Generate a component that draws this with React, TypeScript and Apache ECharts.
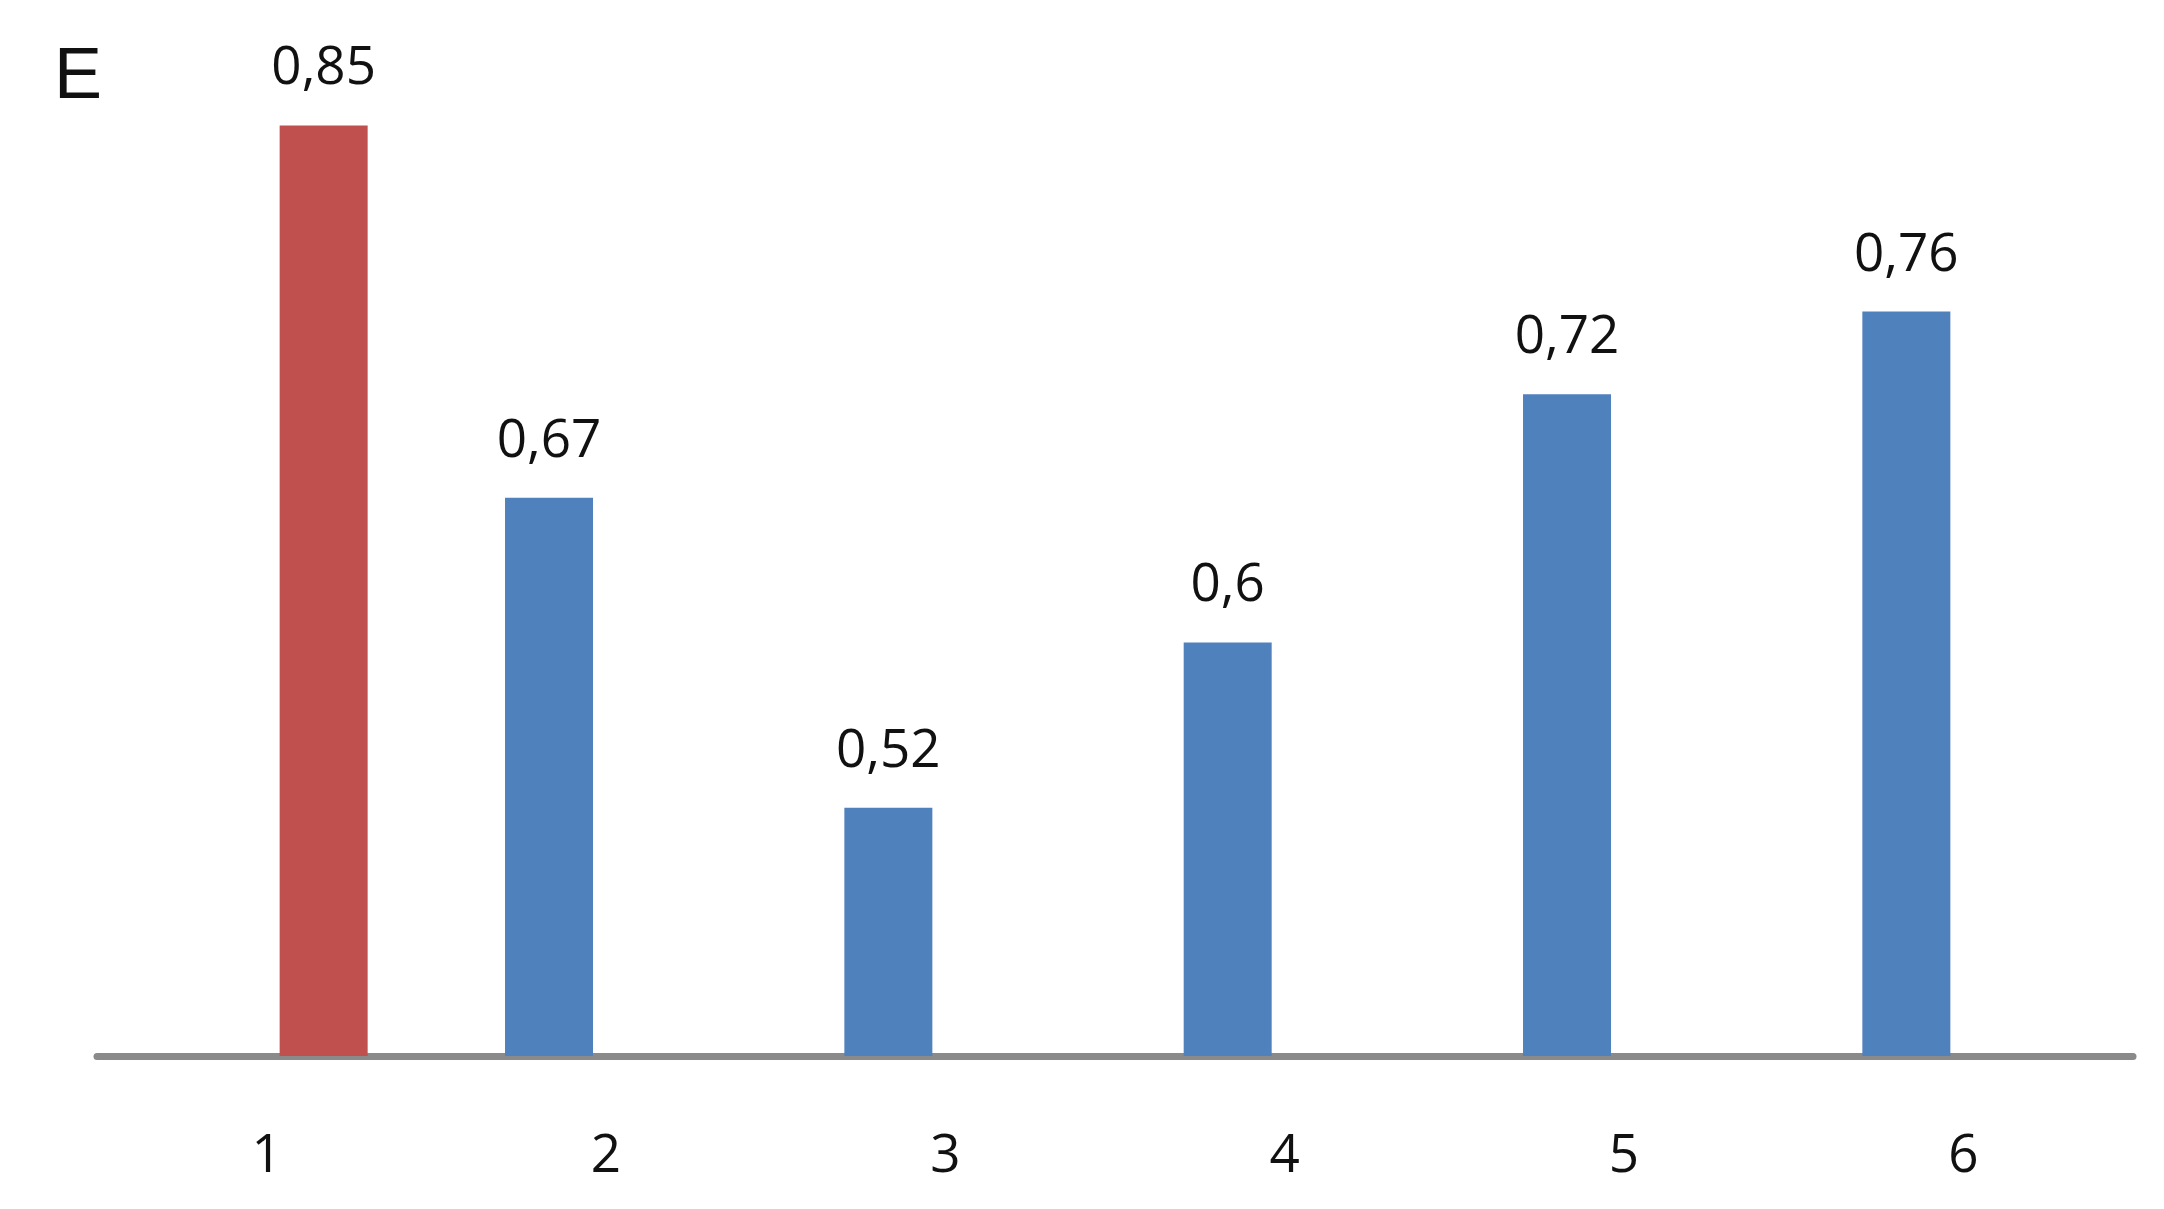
import React, { useEffect, useRef } from "react";
import * as echarts from "echarts";

const categories = ["1", "2", "3", "4", "5", "6"];
const blueValues: (number | null)[] = [null, 0.67, 0.52, 0.6, 0.72, 0.76];
const redValues: (number | null)[] = [0.85, null, null, null, null, null];
const panelLetter = "E";

export default function App() {
  const ref = useRef<HTMLDivElement>(null);
  useEffect(() => {
    if (!ref.current) return;
    const chart = echarts.init(ref.current, undefined, { renderer: "svg" });
    const labelCfg = {
      show: true,
      position: "top" as const,
      distance: 35,
      fontFamily: "Open Sans",
      fontSize: 53,
      color: "#111",
      formatter: (p: any) => String(p.value).replace(".", ","),
    };
    chart.setOption({
      animation: false,
      backgroundColor: "#ffffff",
      grid: { left: 97, right: 31, top: 22, bottom: 153, containLabel: false },
      xAxis: {
        type: "category",
        data: categories,
        axisTick: { show: false },
        axisLine: { show: true, lineStyle: { color: "#8a8a8a", width: 7 } },
        axisLabel: {
          fontFamily: "Open Sans",
          fontSize: 53,
          color: "#111",
          margin: 69,
        },
      },
      yAxis: {
        type: "value",
        min: 0.4,
        max: 0.9,
        show: false,
        splitLine: { show: false },
      },
      graphic: [
        {
          type: "text",
          left: 54,
          top: 37,
          style: {
            text: panelLetter,
            fontFamily: "Liberation Sans",
            fontSize: 72,
            fill: "#111",
          },
        },
      ],
      series: [
        {
          type: "bar",
          data: blueValues,
          barWidth: 88,
          barGap: "29.5%",
          itemStyle: { color: "#4F81BD" },
          label: labelCfg,
        },
        {
          type: "bar",
          data: redValues,
          barWidth: 88,
          barGap: "29.5%",
          itemStyle: { color: "#C0504D" },
          label: labelCfg,
        },
      ],
    });
    return () => chart.dispose();
  }, []);
  return (
    <div
      ref={ref}
      style={{ position: "fixed", left: 0, top: 0, width: 2164, height: 1209, background: "#fff" }}
    />
  );
}
